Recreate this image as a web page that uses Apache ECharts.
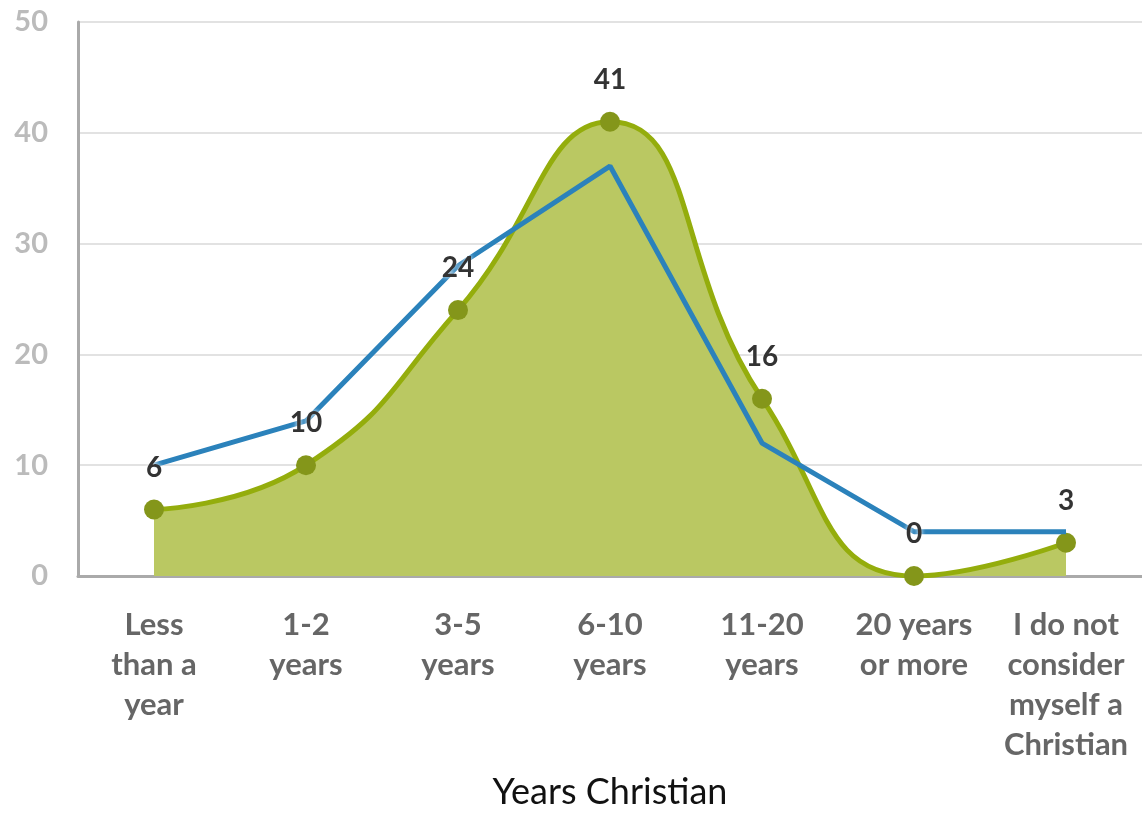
<!DOCTYPE html>
<html>
<head>
<meta charset="utf-8">
<script src="https://cdn.jsdelivr.net/npm/echarts@6/dist/echarts.min.js"></script>
<style>
  html, body { margin: 0; padding: 0; background: #fff; }
  #chart { width: 1142px; height: 813px; }
</style>
</head>
<body>
<div id="chart"></div>
<script>
// categories and values
const categories = [
    'Less\nthan a\nyear',
    '1-2\nyears',
    '3-5\nyears',
    '6-10\nyears',
    '11-20\nyears',
    '20 years\nor more',
    'I do not\nconsider\nmyself a\nChristian'
];
const respondents = [6, 10, 24, 41, 16, 0, 3];
const comparison = [10, 14, 28, 37, 12, 4, 4];
const yTicks = { min: 0, max: 50, interval: 10 };

const font = 'Lato, "Noto Sans", sans-serif';

const chart = echarts.init(document.getElementById('chart'));
chart.setOption({
    animation: false,
    textStyle: { fontFamily: font },
    grid: { left: 78, right: 0, top: 22, bottom: 237, containLabel: false, outerBoundsMode: 'none' },
    xAxis: {
        type: 'category',
        data: categories,
        boundaryGap: true,
        name: 'Years Christian',
        nameLocation: 'middle',
        nameGap: 198,
        nameTextStyle: { fontSize: 36, color: '#111', fontFamily: font },
        axisLine: { lineStyle: { color: '#aaa', width: 3 } },
        axisTick: { show: false },
        axisLabel: {
            interval: 0,
            margin: 29,
            fontSize: 31,
            lineHeight: 40,
            color: '#666',
            fontWeight: 'bold',
            fontFamily: font
        }
    },
    yAxis: {
        type: 'value',
        min: yTicks.min,
        max: yTicks.max,
        interval: yTicks.interval,
        axisLine: { show: true, lineStyle: { color: '#aaa', width: 3 } },
        axisTick: { show: false },
        axisLabel: { fontSize: 29, color: '#bbb', margin: 30, fontWeight: 'bold', fontFamily: font },
        splitLine: { lineStyle: { color: '#e2e2e2', width: 2 } }
    },
    series: [
        {
            name: 'Respondents',
            type: 'line',
            data: respondents,
            smooth: 0.5,
            symbol: 'circle',
            symbolSize: 20,
            itemStyle: { color: '#84961a' },
            lineStyle: { color: '#94ad0c', width: 5 },
            areaStyle: { color: '#bac862', opacity: 1 },
            z: 2
        },
        {
            name: 'Comparison',
            type: 'line',
            data: comparison,
            symbol: 'none',
            lineStyle: { color: '#2b82bb', width: 5 },
            z: 3
        },
        {
            // value labels, kept on top of both lines
            name: 'Labels',
            type: 'line',
            data: respondents,
            symbol: 'circle',
            symbolSize: 20,
            itemStyle: { color: 'rgba(0,0,0,0)' },
            lineStyle: { width: 0, color: 'rgba(0,0,0,0)' },
            silent: true,
            z: 4,
            label: {
                show: true,
                position: 'top',
                distance: 18,
                fontSize: 28,
                fontWeight: 'bold',
                color: '#333',
                textShadowColor: '#fff',
                textShadowBlur: 4,
                fontFamily: font
            }
        }
    ]
});
</script>
</body>
</html>
